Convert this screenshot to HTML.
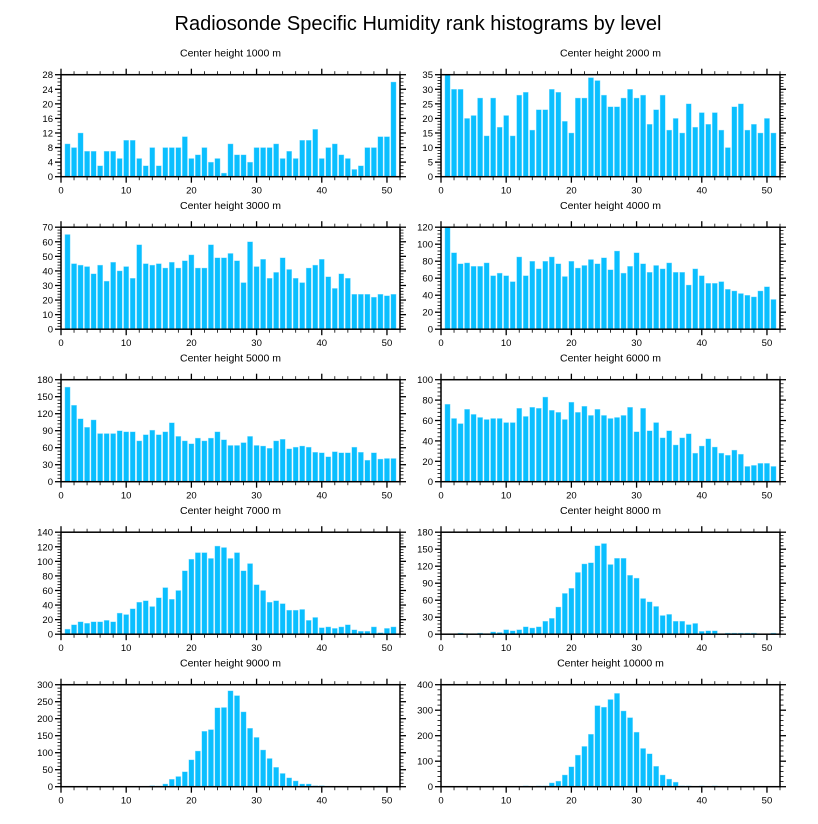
<!DOCTYPE html>
<html><head><meta charset="utf-8"><style>
html,body{margin:0;padding:0;background:#fff;}
svg{display:block;font-family:"Liberation Sans",sans-serif;}
</style></head><body>
<svg id="chart" width="818" height="824" viewBox="0 0 818 824" xmlns="http://www.w3.org/2000/svg">
<text x="418" y="30" font-size="20" text-anchor="middle">Radiosonde Specific Humidity rank histograms by level</text>
</svg>
<script>
const levels = ["1000","2000","3000","4000","5000","6000","7000","8000","9000","10000"];
const yMaxes = [28,35,70,120,180,100,140,180,300,400];
const ySteps = [4,5,10,20,30,20,20,30,50,100];
const xTicks = [0,10,20,30,40,50];
const h1000 = [9,8,12,7,7,3,7,7,5,10,10,5,3,8,3,8,8,8,11,5,6,8,4,5,1,9,6,6,4,8,8,8,9,5,7,5,10,10,13,5,8,9,6,5,2,3,8,8,11,11,26];
const h2000 = [35,30,30,20,21,27,14,27,17,21,14,28,29,16,23,23,30,29,19,15,27,27,34,33,28,24,24,27,30,27,28,18,23,28,16,20,15,25,17,22,18,22,16,10,24,25,16,18,15,20,15];
const h3000 = [65,45,44,43,38,44,33,46,40,43,35,58,45,44,45,42,46,42,47,51,42,42,58,49,49,52,47,32,60,43,48,35,39,49,41,35,32,42,44,48,36,28,38,35,24,24,24,22,24,23,24];
const h4000 = [120,90,77,78,74,74,78,63,66,63,56,85,63,80,71,80,85,77,62,80,72,75,82,77,84,70,92,66,74,90,77,67,75,71,78,67,67,52,71,63,54,54,56,47,45,42,40,38,45,50,35];
const h5000 = [167,135,111,96,109,85,85,85,90,88,88,72,83,91,83,88,104,80,72,67,77,72,77,88,74,64,64,69,80,64,63,59,72,75,58,61,63,61,52,51,44,53,51,51,61,52,38,51,40,41,41];
const h6000 = [76,62,57,71,66,63,61,62,62,58,58,72,64,73,72,83,70,68,61,78,68,74,65,71,65,62,63,65,73,49,72,50,58,43,50,36,43,47,28,35,42,34,28,26,31,27,15,16,18,18,15];
const h7000 = [7,13,17,15,17,17,19,17,29,27,35,44,46,38,50,64,48,60,87,103,112,112,104,121,119,104,112,87,97,68,60,44,46,42,33,33,34,19,23,9,10,8,10,13,6,4,4,10,2,8,10];
const h8000 = [0,0,2,1,1,2,1,4,3,8,6,8,13,11,13,23,28,48,72,81,109,124,126,156,160,123,134,134,104,99,63,57,49,33,35,23,23,17,19,5,6,6,1,2,2,2,2,2,0,0,2];
const h9000 = [0,0,0,0,0,0,0,0,0,0,0,0,1,3,2,8,22,30,44,79,105,163,168,232,233,282,268,220,172,145,108,83,57,39,26,17,8,8,3,3,1,1,1,1,0,0,0,0,2,1,0];
const h10000 = [0,0,0,0,0,0,0,0,0,0,0,0,3,1,3,3,15,22,46,78,124,158,206,318,312,342,366,297,271,214,150,129,80,46,30,18,3,3,1,3,1,3,1,1,1,0,0,0,0,0,0];
const series = [h1000,h2000,h3000,h4000,h5000,h6000,h7000,h8000,h9000,h10000];

const NS = "http://www.w3.org/2000/svg";
const svg = document.getElementById("chart");
function mk(tag, attrs, parent){
  const e = document.createElementNS(NS, tag);
  for (const k in attrs) e.setAttribute(k, attrs[k]);
  (parent||svg).appendChild(e);
  return e;
}
const colX = [61, 441], W = 339, H = 102, top0 = 74.7, rowGap = 152.5, XMAX = 52;

series.forEach((vals, p) => {
  const col = p % 2, row = Math.floor(p / 2);
  const x0 = colX[col], y0 = top0 + row * rowGap;
  const xs = v => x0 + v / XMAX * W;
  const ys = v => y0 + H - v / yMaxes[p] * H;
  const g = mk("g", {});
  
  
  const t = mk("text", {x: x0 + W/2, y: y0 - 18, "font-size": 10.5, "text-anchor": "middle"}, g);
  
  
  t.textContent = "Center height " + levels[p] + " m";
  vals.forEach((v, i) => {
    const c = i + 1;
    const r = mk("rect", {x: xs(c - 0.4), y: ys(v), width: xs(0.8) - x0, height: Math.max(0, ys(0) - ys(v)), fill: "#0abfff", stroke: "#9fe4ff", "stroke-width": 0.4}, g);
    
    
  });
  // frame
  const f = mk("rect", {x: x0, y: y0, width: W, height: H, fill: "none", stroke: "#000", "stroke-width": 1.5}, g);
  
  
  // x ticks
  for (let v = 0; v <= XMAX; v += 2) {
    const major = v % 10 === 0, L = major ? 6 : 3.5;
    mk("line", {x1: xs(v), x2: xs(v), y1: y0 + H, y2: y0 + H + L, stroke: "#000", "stroke-width": major ? 1.3 : 0.8}, g);
    mk("line", {x1: xs(v), x2: xs(v), y1: y0, y2: y0 - L, stroke: "#000", "stroke-width": major ? 1.3 : 0.8}, g);
  }
  xTicks.forEach(v => {
    const tl = mk("text", {x: xs(v), y: y0 + H + 17, "font-size": 9.5, "text-anchor": "middle"}, g);
    
    
    tl.textContent = v;
  });
  // y ticks
  const step = ySteps[p], nMinor = (step % 4 === 0 && step < 10) ? 4 : 5;
  for (let k = 0; k * step / nMinor <= yMaxes[p] + 1e-9; k++) {
    const v = k * step / nMinor, major = k % nMinor === 0, L = major ? 6 : 3.5;
    mk("line", {x1: x0, x2: x0 - L, y1: ys(v), y2: ys(v), stroke: "#000", "stroke-width": major ? 1.3 : 0.8}, g);
    mk("line", {x1: x0 + W, x2: x0 + W + L, y1: ys(v), y2: ys(v), stroke: "#000", "stroke-width": major ? 1.3 : 0.8}, g);
    if (major) {
      const yl = mk("text", {x: x0 - 8, y: ys(v) + 3.5, "font-size": 9.5, "text-anchor": "end"}, g);
      
      
      yl.textContent = v;
    }
  }
});
</script>
</body></html>
